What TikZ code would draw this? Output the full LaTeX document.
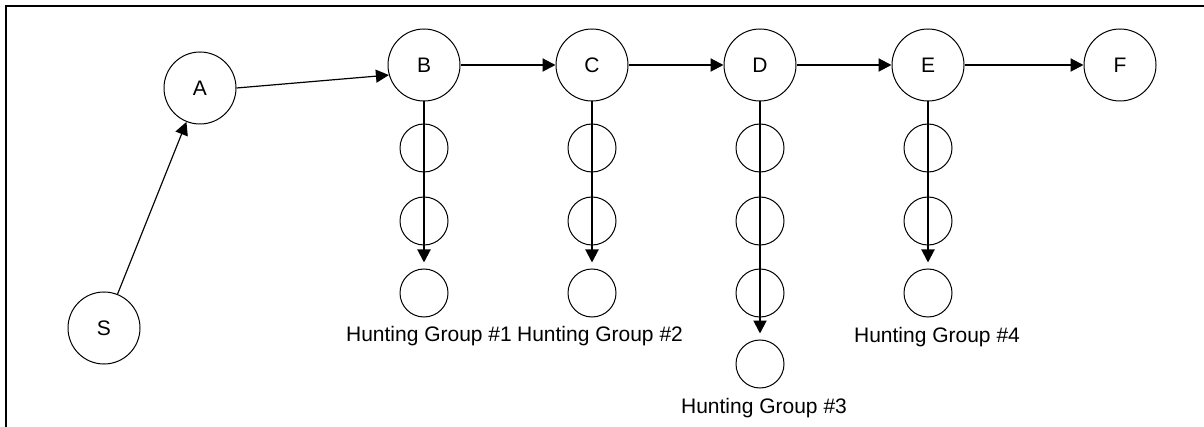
\documentclass[tikz,border=0pt]{standalone}
\usepackage{fontspec}
\setmainfont{Liberation Sans}
\usetikzlibrary{arrows.meta}
\begin{document}
\begin{tikzpicture}[x=0.5pt,y=-0.5pt,
  big/.style={draw,circle,line width=0.5pt,minimum size=36pt,inner sep=0pt,font=\fontsize{10.5}{12}\selectfont},
  small/.style={draw,circle,line width=0.5pt,minimum size=24pt,inner sep=0pt},
  lbl/.style={inner sep=0pt,font=\fontsize{10.5}{12}\selectfont},
  link/.style={-{Triangle[length=6.5pt,width=6.5pt]},line width=1pt},
  thinlink/.style={link,line width=0.6pt},
  hunt/.style={link,shorten >=3pt}]
  \useasboundingbox (0,0) rectangle (1204,427);
  \draw[line width=1pt] (6,427) -- (6,6) -- (1204,6);
  % main route
  \node[big] (S) at (104,328) {S};
  \node[big] (A) at (200,88) {A};
  \node[big] (B) at (424,65) {B};
  \node[big] (C) at (592,65) {C};
  \node[big] (D) at (760,65) {D};
  \node[big] (E) at (928,65) {E};
  \node[big] (F) at (1120,65) {F};
  \draw[thinlink] (S) -- (A);
  \draw[thinlink] (A.east) -- (B.196);
  \draw[link] (B) -- (C);
  \draw[link] (C) -- (D);
  \draw[link] (D) -- (E);
  \draw[link] (E) -- (F);
  % hunting groups hanging below
  \node[small] (B1) at (424,148) {};
  \node[small] (B2) at (424,221) {};
  \node[small] (B3) at (424,293) {};
  \node[small] (C1) at (592,148) {};
  \node[small] (C2) at (592,221) {};
  \node[small] (C3) at (592,293) {};
  \node[small] (D1) at (760,148) {};
  \node[small] (D2) at (760,221) {};
  \node[small] (D3) at (760,293) {};
  \node[small] (D4) at (760,364) {};
  \node[small] (E1) at (928,148) {};
  \node[small] (E2) at (928,221) {};
  \node[small] (E3) at (928,293) {};
  \draw[hunt] (B) -- (B3);
  \draw[hunt] (C) -- (C3);
  \draw[hunt] (D) -- (D4);
  \draw[hunt] (E) -- (E3);
  \node[lbl] (hg1) at (429,336) {Hunting Group \#1};
  \node[lbl] (hg2) at (600,336) {Hunting Group \#2};
  \node[lbl] (hg3) at (764,408) {Hunting Group \#3};
  \node[lbl] (hg4) at (937,337) {Hunting Group \#4};
\end{tikzpicture}
\end{document}
